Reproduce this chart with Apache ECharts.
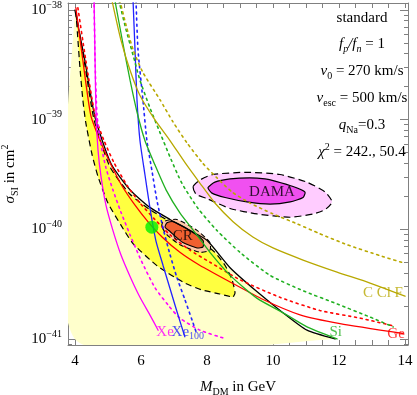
<!DOCTYPE html>
<html>
<head>
<meta charset="utf-8">
<script src="https://cdn.jsdelivr.net/npm/echarts@6/dist/echarts.min.js"></script>
<style>
html, body { margin: 0; padding: 0; background: #fff; }
#chart { width: 417px; height: 395px; }
</style>
</head>
<body>
<div id="chart"></div>
<script>
// masses in GeV, cross sections stored as log10(sigma / cm^2)
var massTicks = [4, 4.5, 5, 5.5, 6, 6.5, 7, 7.5, 8, 8.5, 9, 9.5, 10, 10.5, 11, 11.5, 12, 12.5, 13, 13.5, 14];
var massLabels = [4, 6, 8, 10, 12, 14];
var decadeLabels = [-41, -40, -39, -38];

// best-fit contour (black solid) and inner band (black dashed)
var fitContour = [[4.0,-38.0],[4.30,-38.46],[4.61,-38.98],[5.09,-39.40],[5.67,-39.64],[6.27,-39.80],[6.88,-39.91],[7.48,-40.01],[8.00,-40.10],[8.70,-40.35],[9.52,-40.57],[10.30,-40.76],[11.03,-40.92],[11.88,-41.0]];
var bandUpper = [[4.03,-38.02],[4.30,-38.50],[4.58,-39.00],[5.06,-39.43],[5.67,-39.68],[6.27,-39.82],[6.88,-39.93],[7.48,-40.03],[7.88,-40.12],[8.24,-40.21],[8.55,-40.33],[8.76,-40.46],[8.85,-40.58],[8.79,-40.62]];
var bandLower = [[4.03,-38.02],[4.09,-38.27],[4.15,-38.52],[4.24,-38.82],[4.33,-39.03],[4.52,-39.32],[4.70,-39.52],[5.00,-39.76],[5.39,-39.96],[5.76,-40.13],[6.52,-40.34],[7.33,-40.49],[7.82,-40.55],[8.39,-40.59],[8.79,-40.62]];

// experimental bounds: solid and dotted variants
var geSolid = [[4.03,-37.98],[4.24,-38.46],[4.48,-38.96],[4.76,-39.19],[5.06,-39.39],[5.42,-39.60],[5.82,-39.78],[6.21,-39.93],[6.64,-40.07],[7.18,-40.21],[7.79,-40.33],[8.70,-40.48],[9.70,-40.64],[10.82,-40.78],[12.03,-40.86],[13.94,-40.95]];
var geDotted = [[4.09,-37.98],[4.33,-38.46],[4.61,-38.96],[4.88,-39.19],[5.18,-39.39],[5.58,-39.60],[5.97,-39.76],[6.42,-39.91],[6.88,-40.05],[7.48,-40.19],[8.09,-40.30],[9.00,-40.46],[10.21,-40.62],[11.42,-40.74],[12.64,-40.81],[13.64,-40.88]];
var xe10Solid = [[4.58,-37.90],[4.61,-38.46],[4.64,-38.96],[4.70,-39.28],[4.79,-39.52],[4.94,-39.78],[5.15,-40.01],[5.39,-40.23],[5.67,-40.43],[5.97,-40.62],[6.27,-40.78],[6.52,-40.92]];
var xe10Dotted = [[4.58,-37.90],[4.61,-38.46],[4.67,-38.96],[4.79,-39.23],[4.94,-39.44],[5.15,-39.64],[5.39,-39.84],[5.67,-40.05],[6.00,-40.28],[6.42,-40.53],[6.82,-40.69],[7.18,-40.81],[7.79,-40.92],[8.48,-40.99]];
var xe100Solid = [[5.76,-37.91],[5.82,-38.36],[5.88,-38.82],[5.97,-39.19],[6.12,-39.50],[6.27,-39.80],[6.45,-40.10],[6.67,-40.33],[6.88,-40.54],[7.09,-40.75],[7.33,-40.98]];
var xe100Dotted = [[5.85,-37.91],[5.91,-38.36],[6.06,-38.82],[6.18,-39.19],[6.33,-39.46],[6.48,-39.73],[6.67,-39.99],[6.88,-40.23],[7.09,-40.44],[7.33,-40.64],[7.55,-40.83],[7.70,-40.96]];
var siSolid = [[5.21,-37.91],[5.45,-38.30],[5.67,-38.64],[5.88,-38.93],[6.12,-39.19],[6.42,-39.41],[6.76,-39.64],[7.18,-39.85],[7.64,-40.03],[8.09,-40.21],[8.70,-40.42],[9.52,-40.63],[10.30,-40.76],[11.03,-40.89],[11.94,-41.0]];
var siDotted = [[5.33,-37.91],[5.55,-38.18],[5.76,-38.41],[5.97,-38.64],[6.27,-38.89],[6.58,-39.12],[6.88,-39.34],[7.24,-39.58],[7.73,-39.81],[8.30,-40.01],[9.00,-40.21],[9.91,-40.42],[10.91,-40.56],[11.94,-40.68],[12.94,-40.80],[13.64,-40.89]];
var cclfSolid = [[5.12,-37.91],[5.39,-38.27],[5.67,-38.55],[5.97,-38.78],[6.42,-39.00],[6.88,-39.19],[7.33,-39.39],[7.79,-39.58],[8.24,-39.76],[8.79,-39.93],[9.39,-40.07],[10.00,-40.17],[10.91,-40.28],[11.94,-40.39],[12.94,-40.49],[14.0,-40.61]];
var cclfDotted = [[5.36,-37.91],[5.55,-38.14],[5.76,-38.36],[6.06,-38.57],[6.58,-38.82],[6.97,-39.02],[7.39,-39.21],[7.88,-39.40],[8.30,-39.53],[8.76,-39.66],[9.30,-39.76],[10.00,-39.86],[10.73,-39.95],[11.42,-40.04],[12.24,-40.14],[13.24,-40.24],[14.0,-40.31]];

// signal regions
var damaOuter = [[7.58,-39.61],[7.79,-39.55],[8.18,-39.50],[9.21,-39.48],[10.21,-39.50],[11.03,-39.57],[11.58,-39.66],[11.79,-39.75],[11.58,-39.82],[11.21,-39.86],[10.52,-39.89],[9.52,-39.86],[8.70,-39.81],[8.00,-39.72],[7.67,-39.68]];
var damaInner = [[8.03,-39.62],[8.24,-39.57],[8.70,-39.54],[9.30,-39.53],[9.76,-39.54],[10.06,-39.56],[10.61,-39.61],[10.97,-39.66],[10.91,-39.71],[10.52,-39.75],[9.91,-39.77],[9.21,-39.75],[8.55,-39.71],[8.15,-39.67]];
var crOuter = [[6.64,-39.98],[6.67,-39.93],[7.09,-39.91],[7.70,-40.01],[8.09,-40.12],[8.09,-40.19],[7.79,-40.21],[7.18,-40.14],[6.79,-40.05]];
var crInner = [[6.73,-39.98],[6.79,-39.94],[6.97,-39.93],[7.48,-40.01],[7.88,-40.10],[7.88,-40.16],[7.70,-40.17],[7.27,-40.12],[6.88,-40.02]];
var bestPoint = [[6.33,-39.98]];

// curve labels: [mass, log10 sigma]
var labelDama = [9.97, -39.66];
var labelCr = [7.27, -40.06];
var labelCclf = [13.33, -40.585];
var labelSi = [11.9, -40.94];
var labelGe = [13.73, -40.955];
var labelXe10 = [6.73, -40.94];
var labelXe100 = [7.42, -40.94];

var infoLines = [
	"{n|standard}",
	"{i|f}{subi|p}{i|/f}{subi|n}{n| = 1}",
	"{i|v}{sub|0}{n| = 270 km/s}",
	"{i|v}{sub|esc}{n| = 500 km/s}",
	"{i|q}{sub|Na}{n|=0.3}",
	"{i|χ}{sup|2}{n| = 242., 50.4}",
];

var serif = "Liberation Serif";
var rich = {
	n: { fontSize: 15, fontFamily: serif, color: "#000", lineHeight: 20 },
	i: { fontSize: 15, fontFamily: serif, fontStyle: "italic", color: "#000", lineHeight: 20 },
	sub: { fontSize: 10, fontFamily: serif, color: "#000", verticalAlign: "bottom", lineHeight: 10 },
	subi: { fontSize: 10, fontFamily: serif, fontStyle: "italic", color: "#000", verticalAlign: "bottom", lineHeight: 10 },
	sup: { fontSize: 10, fontFamily: serif, color: "#000", verticalAlign: "top", lineHeight: 10 },
};

// log minor ticks: 2..9 x 10^n
var yMinorTicks = [];
for (var n = -42; n <= -38; n++) {
	for (var k = 2; k <= 9; k++) {
		var v = n + Math.log10(k);
		if (v > -41.055 && v < -37.936) yMinorTicks.push(v);
	}
}

var frameColor = "#808080";

function curve(data, color, type, width, z) {
	return {
		type: "line",
		data: data,
		showSymbol: false,
		smooth: 0.2,
		silent: true,
		clip: true,
		z: z || 5,
		lineStyle: { color: color, width: width || 1.3, type: type || "solid", cap: "round" },
	};
}

function region(points, style, z) {
	return {
		type: "custom",
		coordinateSystem: "cartesian2d",
		clip: true,
		silent: true,
		z: z,
		data: [points[0]],
		renderItem: function (params, api) {
			var pts = [];
			for (var i = 0; i < points.length; i++) pts.push(api.coord(points[i]));
			return { type: "polygon", shape: { points: pts, smooth: 0.2 }, style: style };
		},
	};
}

function textLabel(pos, text, color, z) {
	return {
		type: "scatter",
		data: [pos],
		symbolSize: 1,
		silent: true,
		z: z || 10,
		itemStyle: { color: "rgba(0,0,0,0)" },
		label: {
			show: true,
			position: "inside",
			formatter: text,
			color: color,
			fontFamily: serif,
			fontSize: 15,
			rich: {
				b: { fontSize: 15, fontFamily: serif, color: color, lineHeight: 18 },
				s: { fontSize: 10, fontFamily: serif, color: color, verticalAlign: "bottom", lineHeight: 10 },
			},
		},
	};
}

var chart = echarts.init(document.getElementById("chart"));

var lightRegion = [[4.0, -41.0]].concat(fitContour);
var bandRegion = bandUpper.concat(bandLower.slice().reverse());

var graphicTexts = [];
var infoY = [18, 44, 71, 98, 125, 152];
for (var j = 0; j < infoLines.length; j++) {
	graphicTexts.push({
		type: "text",
		x: 362,
		y: infoY[j],
		z: 100,
		style: {
			text: infoLines[j],
			rich: rich,
			align: "center",
			verticalAlign: "middle",
			textAlign: "center",
			textVerticalAlign: "middle",
		},
	});
}

var option = {
	animation: false,
	backgroundColor: "#fff",
	grid: { left: 68, top: 3, width: 340, height: 342, outerBoundsMode: "none", containLabel: false },
	graphic: graphicTexts,
	xAxis: [
		{
			type: "value",
			position: "bottom",
			min: 3.79,
			max: 14.09,
			splitLine: { show: false },
			axisLine: { show: true, lineStyle: { color: frameColor, width: 1 } },
			axisTick: { show: true, inside: true, length: 5, customValues: massTicks, lineStyle: { color: frameColor } },
			axisLabel: { show: true, customValues: massLabels, margin: 9, color: "#000", fontFamily: serif, fontSize: 15 },
			name: "{i|M}{sub|DM}{n| in GeV}",
			nameLocation: "middle",
			nameGap: 32,
			nameTextStyle: { rich: rich },
		},
		{
			type: "value",
			position: "top",
			min: 3.79,
			max: 14.09,
			splitLine: { show: false },
			axisLine: { show: true, lineStyle: { color: frameColor, width: 1 } },
			axisTick: { show: true, inside: true, length: 5, customValues: massTicks, lineStyle: { color: frameColor } },
			axisLabel: { show: false },
		},
	],
	yAxis: [
		{
			type: "value",
			position: "left",
			min: -41.055,
			max: -37.936,
			splitLine: { show: false },
			axisLine: { show: true, lineStyle: { color: frameColor, width: 1 } },
			axisTick: { show: true, inside: true, length: 8, customValues: decadeLabels, lineStyle: { color: frameColor } },
			axisLabel: {
				show: true,
				customValues: decadeLabels,
				margin: 6,
				formatter: function (v) {
					return "{b|10}{s|\u2212" + Math.abs(Math.round(v)) + "}";
				},
				rich: {
					b: { fontSize: 15, fontFamily: serif, color: "#000", lineHeight: 20 },
					s: { fontSize: 10, fontFamily: serif, color: "#000", verticalAlign: "top", lineHeight: 10 },
				},
			},
			name: "{i|\u03c3}{sub|SI}{n| in cm}{sup|2}",
			nameLocation: "middle",
			nameGap: 44,
			nameRotate: 90,
			nameTextStyle: { rich: rich },
		},
		{
			type: "value",
			position: "left",
			offset: 0,
			min: -41.055,
			max: -37.936,
			splitLine: { show: false },
			axisLine: { show: false },
			axisTick: { show: true, inside: true, length: 4, customValues: yMinorTicks, lineStyle: { color: frameColor } },
			axisLabel: { show: false },
		},
		{
			type: "value",
			position: "right",
			offset: 0,
			min: -41.055,
			max: -37.936,
			splitLine: { show: false },
			axisLine: { show: true, lineStyle: { color: frameColor, width: 1 } },
			axisTick: { show: true, inside: true, length: 8, customValues: decadeLabels, lineStyle: { color: frameColor } },
			axisLabel: { show: false },
		},
		{
			type: "value",
			position: "right",
			offset: 0,
			min: -41.055,
			max: -37.936,
			splitLine: { show: false },
			axisLine: { show: false },
			axisTick: { show: true, inside: true, length: 4, customValues: yMinorTicks, lineStyle: { color: frameColor } },
			axisLabel: { show: false },
		},
	],
	series: [
		region(lightRegion, { fill: "#ffffcc" }, 1),
		region(bandRegion, { fill: "#ffff40", stroke: "#000", lineWidth: 1.2, lineDash: [6, 4] }, 2),
		curve(fitContour, "#000", "solid", 1.3, 3),
		region(damaOuter, { fill: "#ffccff", stroke: "#000", lineWidth: 1.2, lineDash: [7, 4] }, 3),
		region(damaInner, { fill: "#f050f0", stroke: "#000", lineWidth: 1.2 }, 3),
		region(crOuter, { fill: "#ffc8a8", stroke: "#000", lineWidth: 1.1, lineDash: [5, 3] }, 3),
		region(crInner, { fill: "#f06030", stroke: "#000", lineWidth: 1.1 }, 3),
		curve(geDotted, "#ff0000", [2, 4], 1.6),
		curve(geSolid, "#ff0000"),
		curve(xe10Dotted, "#ff00ff", [2, 4], 1.6),
		curve(xe10Solid, "#ff00ff"),
		curve(xe100Dotted, "#2222ff", [2, 4], 1.6),
		curve(xe100Solid, "#2222ff"),
		curve(siDotted, "#20b020", [2, 4], 1.6),
		curve(siSolid, "#20b020"),
		curve(cclfDotted, "#b8a800", [2, 4], 1.6),
		curve(cclfSolid, "#b8a800"),
		{
			type: "scatter",
			data: bestPoint,
			symbolSize: 13,
			silent: true,
			z: 8,
			itemStyle: { color: "#00ee00" },
		},
		textLabel(labelDama, "{b|DAMA}", "#000"),
		textLabel(labelCr, "{b|CR}", "#000"),
		textLabel(labelCclf, "{b|C Cl F}", "#b8a800"),
		textLabel(labelSi, "{b|Si}", "#20b020"),
		textLabel(labelGe, "{b|Ge}", "#ff0000"),
		textLabel(labelXe10, "{b|Xe}", "#ff00ff"),
		textLabel(labelXe100, "{b|Xe}{s|100}", "#2222ff"),
	],
};

chart.setOption(option);
</script>
</body>
</html>
